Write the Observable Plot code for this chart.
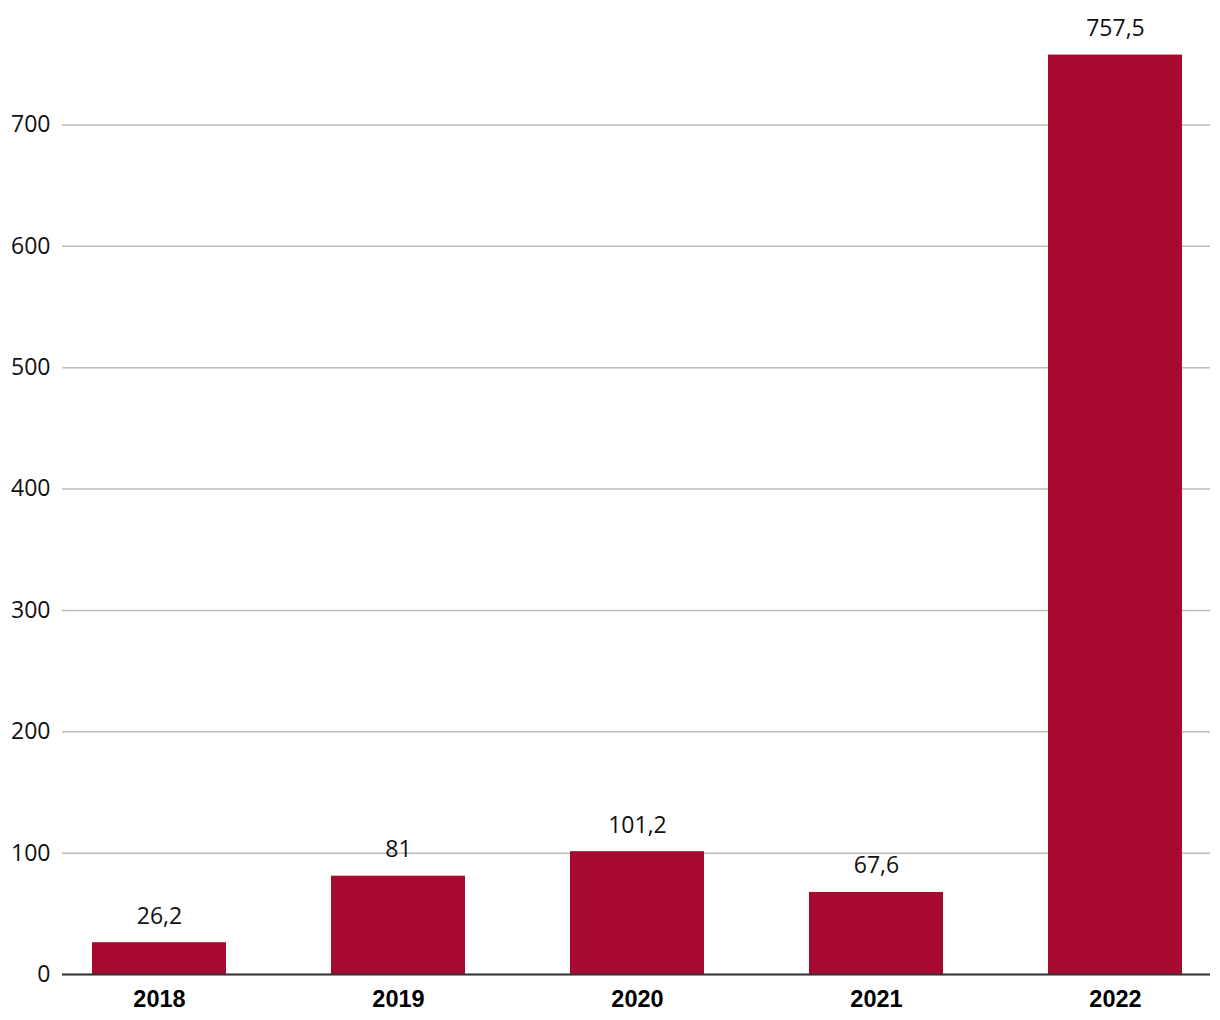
<!DOCTYPE html>
<html>
<head>
<meta charset="utf-8">
<script src="https://cdn.jsdelivr.net/npm/d3@7"></script>
<script src="https://cdn.jsdelivr.net/npm/@observablehq/plot@0.6"></script>
<style>
  html, body { margin: 0; padding: 0; background: #fff; }
  #chart svg { display: block; }
</style>
</head>
<body>
<div id="chart"></div>
<script>
const years = ["2018", "2019", "2020", "2021", "2022"];
const values = [26.2, 81, 101.2, 67.6, 757.5];
const yTicks = [0, 100, 200, 300, 400, 500, 600, 700];

const data = years.map((y, i) => ({year: y, value: values[i]}));
const fmt = v => String(v).replace(".", ",");

const chart = Plot.plot({
  width: 1220,
  height: 1020,
  marginLeft: 62,
  marginRight: 10,
  marginTop: 3,
  marginBottom: 46,
  style: {fontFamily: "'Open Sans', sans-serif", fontSize: "23px", color: "#111", background: "#fff"},
  x: {domain: years, range: [62, 1212], paddingInner: 0.44, paddingOuter: 0.1255, label: null},
  y: {domain: [0, 800], label: null},
  marks: [
    Plot.gridY(yTicks, {stroke: "#bbb", strokeOpacity: 1, strokeWidth: 1.5}),
    Plot.axisY(yTicks, {tickSize: 0, tickPadding: 12, label: null, fontSize: 23, fill: "#111"}),
    Plot.barY(data, {x: "year", y: "value", fill: "#a80a2f"}),
    Plot.ruleY([0], {stroke: "#333", strokeWidth: 2}),
    Plot.axisX({tickSize: 0, tickPadding: 16, label: null, fontSize: 23.5, fontWeight: "bold", fontFamily: "'Liberation Sans', Arial, sans-serif", fill: "#000"}),
    Plot.text(data, {x: "year", y: "value", text: d => fmt(d.value), dy: -26.5, fontSize: 23, fill: "#111"})
  ]
});
document.getElementById("chart").appendChild(chart);
</script>
</body>
</html>
